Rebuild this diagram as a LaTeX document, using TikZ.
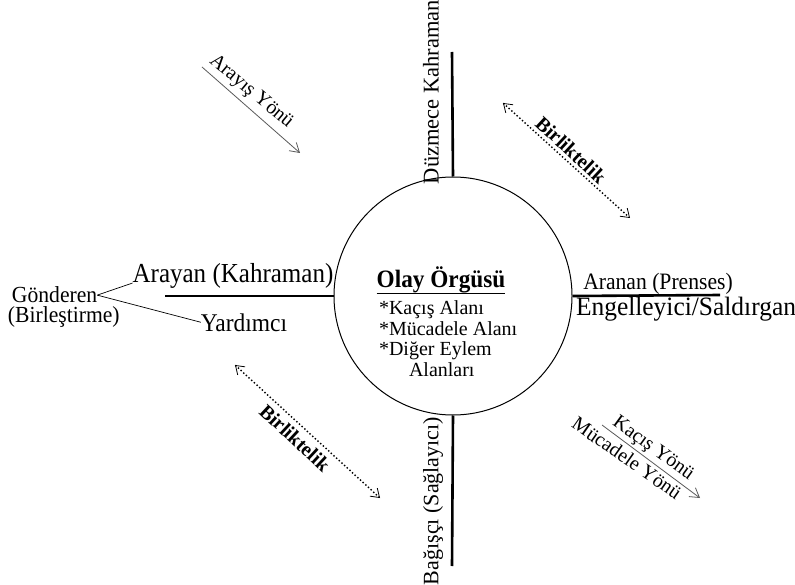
\documentclass[tikz,border=0pt]{standalone}
\usepackage{fontspec}
\setmainfont{Liberation Serif}
\usetikzlibrary{arrows.meta}
\newcommand{\rolesize}{\fontsize{24}{28}\selectfont}
\newcommand{\notesize}{\fontsize{20}{24}\selectfont}
\tikzstyle{role}=[inner sep=0, outer sep=0, font=\rolesize]
\tikzstyle{note}=[inner sep=0, outer sep=0, font=\notesize]
\tikzstyle{axis}=[line width=2.6pt]
\tikzstyle{course}=[draw=black!65, line width=0.8pt, -{Straight Barb[length=9pt, width=11pt]}]
\tikzstyle{bond}=[line width=2pt, dash pattern=on 0pt off 3.6pt, line cap=round,
                  {Straight Barb[length=8pt, width=11pt, line width=0.8pt]}-{Straight Barb[length=8pt, width=11pt, line width=0.8pt]}]

\begin{document}
\begin{tikzpicture}[x=1pt, y=-1pt,
                    % plain white page, reference size
                    execute at begin picture={\useasboundingbox (0,0) rectangle (795,585);}]
    % plot circle and the four axes
    \node[draw, circle, line width=1pt, minimum size=238pt, inner sep=0] (plot) at (453,296) {};
    \coordinate (fakeEnd) at (452,52);
    \coordinate (donorEnd) at (452,566);
    \coordinate (seekEnd) at (165,296);
    \coordinate (soughtEnd) at (720,295);
    \draw[axis] (plot.north) -- (fakeEnd);
    \draw[axis] (plot.south) -- (donorEnd);
    \draw[axis] (plot.west) -- (seekEnd);
    \draw[axis] (plot.east) -- (soughtEnd);

    % centre text
    \node[role, font=\fontsize{25}{28}\selectfont\bfseries, xscale=0.93, anchor=base] (title) at (441,288) {Olay Örgüsü};
    \draw[line width=1pt] (title.south west) -- (title.south east);
    \foreach \xx/\yy/\txt [count=\i] in {379/315/{*Kaçış Alanı}, 379/335/{*Mücadele Alanı},
                                          379/355/{*Diğer Eylem}, 409/376/{Alanları}}
        \node[note, anchor=base west] (area\i) at (\xx,\yy) {\txt};

    % roles
    \node[role, font=\fontsize{22.5}{26}\selectfont, rotate=90] (fake) at (431,92) {Düzmece Kahraman};
    \node[role, font=\fontsize{22}{26}\selectfont, rotate=90] (donor) at (433,501) {Bağışçı (Sağlayıcı)};
    \node[role, font=\fontsize{27.5}{30}\selectfont, xscale=0.91, anchor=base] (seeker) at (233,283) {Arayan (Kahraman)};
    \node[role, font=\fontsize{25.5}{30}\selectfont, xscale=0.92, anchor=base] (helper) at (244,331) {Yardımcı};
    \node[role, font=\fontsize{23.5}{28}\selectfont, xscale=0.92, anchor=base] (sought) at (658,290) {Aranan (Prenses)};
    \node[role, font=\fontsize{26.5}{30}\selectfont, xscale=0.96, anchor=base] (villain) at (686,316) {Engelleyici/Saldırgan};
    \node[note, font=\fontsize{23}{26}\selectfont, xscale=0.94, anchor=base west] (sender) at (12,303) {Gönderen};
    \node[note, font=\fontsize{23}{26}\selectfont, xscale=0.94, anchor=base west] (senderSub) at (8,323) {(Birleştirme)};
    \draw[line width=0.7pt] (sender.east) -- (seeker.base west);
    \draw[line width=0.7pt] (sender.east) -- (helper.west);

    % directions
    \coordinate (seekA) at (202,67);
    \coordinate (seekB) at (300,153);
    \draw[course] (seekA) -- (seekB);
    \node[note, rotate=-40] (seekLabel) at (251,92) {Arayış Yönü};

    \coordinate (fleeA) at (602,425);
    \coordinate (fleeB) at (700,498);
    \draw[course] (fleeA) -- (fleeB);
    \node[note, rotate=-36] (fleeLabel) at (653,449) {Kaçış Yönü};
    \node[note, rotate=-35] (fightLabel) at (627,458) {Mücadele Yönü};

    % unions
    \coordinate (bondA) at (503,103);
    \coordinate (bondB) at (630,218);
    \draw[bond] (bondA) -- (bondB);
    \node[note, font=\notesize\bfseries, rotate=-43] (bondLabel) at (571,150) {Birliktelik};

    \coordinate (bondC) at (235,365);
    \coordinate (bondD) at (380,498);
    \draw[bond] (bondC) -- (bondD);
    \node[note, font=\notesize\bfseries, rotate=-43] (bondLabel2) at (295,438) {Birliktelik};
\end{tikzpicture}
\end{document}
